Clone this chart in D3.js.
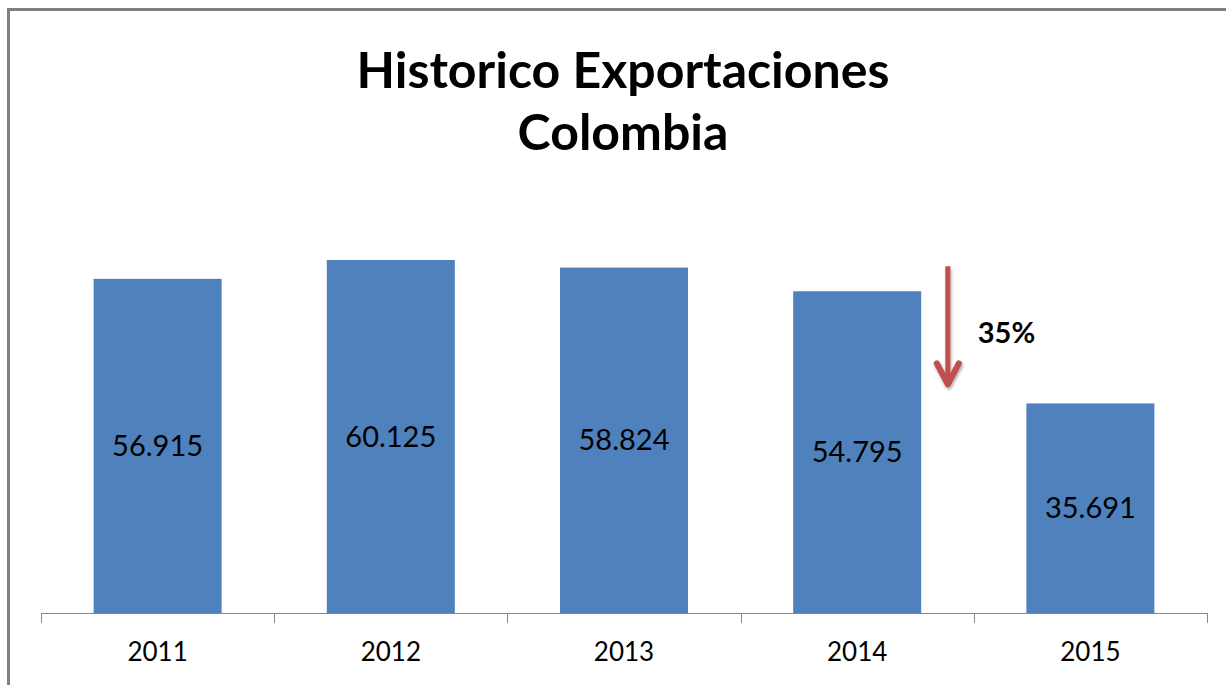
<!DOCTYPE html>
<html>
<head>
<meta charset="utf-8">
<script src="https://cdn.jsdelivr.net/npm/d3@7"></script>
<style>
  html, body { margin: 0; padding: 0; background: #fff; }
  svg { display: block; }
</style>
</head>
<body>
<svg id="chart" width="1226" height="685"></svg>
<script>
const years = ["2011", "2012", "2013", "2014", "2015"];
const exportsValues = [56915, 60125, 58824, 54795, 35691];
const titleLines = ["Historico Exportaciones", "Colombia"];
const dropLabel = "35%";

const W = 1226, H = 685;
const svg = d3.select("#chart");
const font = "Lato, 'Open Sans', sans-serif";

// outer frame
svg.append("rect")
  .attr("x", 8.5).attr("y", 9.5)
  .attr("width", W + 20).attr("height", H + 20)
  .attr("fill", "#fff")
  .attr("stroke", "#808080").attr("stroke-width", 3);

const x = d3.scaleBand()
  .domain(years)
  .range([41, 1207])
  .paddingInner(0.451)
  .paddingOuter(0.2255);

const y = d3.scaleLinear().domain([0, 70000]).range([613, 202]);

const loc = d3.formatLocale({decimal: ",", thousands: ".", grouping: [3], currency: ["$", ""]});
const fmt = loc.format(",");

// title
svg.append("text")
  .attr("x", 623).attr("font-family", font).attr("font-weight", "bold")
  .attr("font-size", 50).attr("text-anchor", "middle").attr("fill", "#000")
  .selectAll("tspan").data(titleLines).join("tspan")
  .attr("x", 623).attr("y", (d, i) => 88 + i * 62).text(d => d);

// bars
const data = years.map((yr, i) => ({year: yr, value: exportsValues[i]}));
svg.append("g").selectAll("rect").data(data).join("rect")
  .attr("x", d => x(d.year))
  .attr("y", d => y(d.value))
  .attr("width", x.bandwidth())
  .attr("height", d => y(0) - y(d.value))
  .attr("fill", "#4F81BD");

// value labels
svg.append("g").selectAll("text").data(data).join("text")
  .attr("x", d => x(d.year) + x.bandwidth() / 2)
  .attr("y", d => (y(d.value) + y(0)) / 2)
  .attr("dy", "0.35em")
  .attr("text-anchor", "middle")
  .attr("font-family", font).attr("font-size", 29).attr("fill", "#000")
  .text(d => fmt(d.value));

// axis
const axis = d3.axisBottom(x).tickSize(0).tickPadding(30);
const gAxis = svg.append("g").attr("transform", `translate(0,${y(0)})`).call(axis);
gAxis.select(".domain").attr("stroke", "#868686").attr("d", `M${x.range()[0]},0.5H${x.range()[1]}`);
gAxis.selectAll(".tick text")
  .attr("font-family", font).attr("font-size", 26).attr("fill", "#000");

const step = x.step();
const bounds = d3.range(years.length + 1).map(i => x.range()[0] + i * step);
gAxis.append("g").selectAll("line").data(bounds).join("line")
  .attr("x1", d => Math.round(d) + 0.5).attr("x2", d => Math.round(d) + 0.5)
  .attr("y1", 0).attr("y2", 10)
  .attr("stroke", "#868686");

// drop annotation arrow between 2014 and 2015
const defs = svg.append("defs");
const filt = defs.append("filter").attr("id", "shadow").attr("x", "-50%").attr("y", "-10%").attr("width", "200%").attr("height", "130%");
filt.append("feDropShadow").attr("dx", 1).attr("dy", 2).attr("stdDeviation", 1.5).attr("flood-color", "#000").attr("flood-opacity", 0.35);

const ax = x("2014") + x.bandwidth() + (x("2015") - x("2014") - x.bandwidth()) / 2 - 26;
const ay1 = y(exportsValues[3]) - 25;
const ay2 = y(exportsValues[4]) - 19;
const arrow = svg.append("g").attr("filter", "url(#shadow)");
arrow.append("line")
  .attr("x1", ax).attr("x2", ax).attr("y1", ay1).attr("y2", ay2 - 3)
  .attr("stroke", "#C0504D").attr("stroke-width", 5);
arrow.append("path")
  .attr("d", `M${ax - 11},${ay2 - 21} L${ax},${ay2} L${ax + 11},${ay2 - 21}`)
  .attr("fill", "none").attr("stroke", "#C0504D").attr("stroke-width", 6)
  .attr("stroke-linecap", "round").attr("stroke-linejoin", "round");

svg.append("text")
  .attr("x", ax + 30).attr("y", (ay1 + ay2) / 2 + 7)
  .attr("dy", "0.35em")
  .attr("font-family", font).attr("font-weight", "bold").attr("font-size", 29)
  .attr("fill", "#000")
  .text(dropLabel);
</script>
</body>
</html>
